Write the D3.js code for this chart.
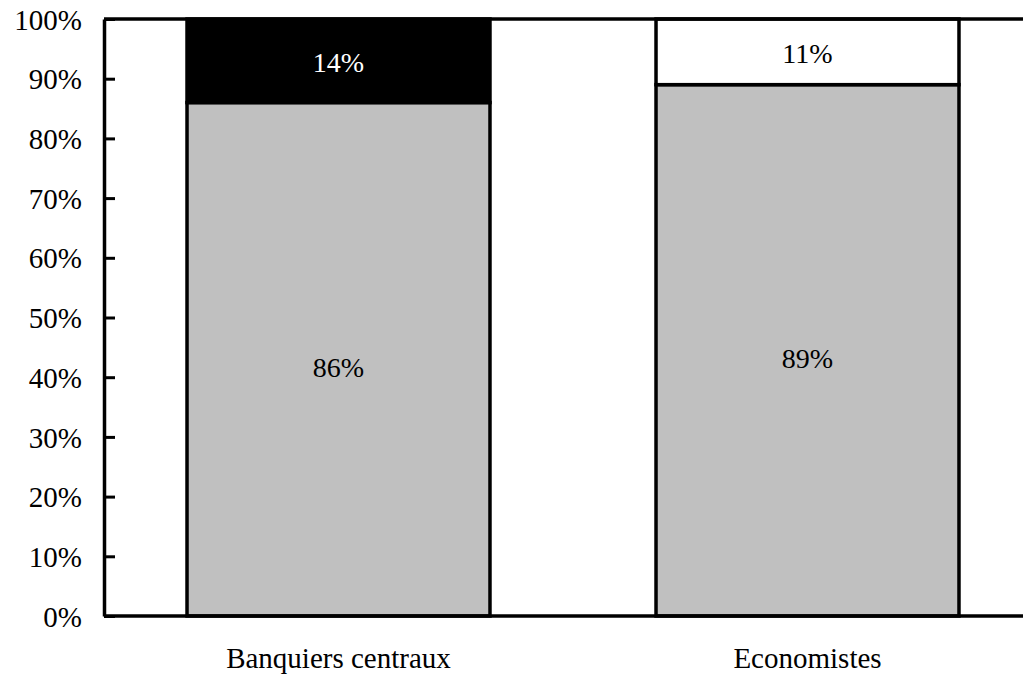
<!DOCTYPE html>
<html>
<head>
<meta charset="utf-8">
<script src="https://cdn.jsdelivr.net/npm/d3@7"></script>
<style>
  html, body { margin: 0; padding: 0; background: #fff; }
  svg { display: block; font-family: "Liberation Serif", "Times New Roman", serif; }
</style>
</head>
<body>
<svg id="chart" width="1023" height="674"></svg>
<script>
// Data: share of respondents per group (percent)
const categories = ["Banquiers centraux", "Economistes"];
const seriesGrey  = [86, 89];
const seriesBlack = [14, 0];
const seriesWhite = [0, 11];
const yTicks = [0, 10, 20, 30, 40, 50, 60, 70, 80, 90, 100];

const seriesList = [
  { key: "grey",  values: seriesGrey },
  { key: "black", values: seriesBlack },
  { key: "white", values: seriesWhite }
];
const fills = { grey: "#c0c0c0", black: "#000000", white: "#ffffff" };
const labelColors = { grey: "#000000", black: "#ffffff", white: "#000000" };

const svg = d3.select("#chart");
const plotLeft = 104, plotRight = 1042, plotTop = 19, plotBottom = 616;

const x = d3.scaleBand()
  .domain(categories)
  .range([plotLeft, plotRight])
  .paddingInner(0.354)
  .paddingOuter(0.177);

const y = d3.scaleLinear().domain([0, 100]).range([plotBottom, plotTop]);

// Stack segments per category
const stacked = [];
categories.forEach((c, i) => {
  let base = 0;
  seriesList.forEach(s => {
    const v = s.values[i];
    if (v > 0) stacked.push({ cat: c, key: s.key, y0: base, y1: base + v, v });
    base += v;
  });
});

svg.append("g").selectAll("rect")
  .data(stacked)
  .join("rect")
  .attr("x", d => x(d.cat))
  .attr("width", x.bandwidth())
  .attr("y", d => y(d.y1))
  .attr("height", d => y(d.y0) - y(d.y1))
  .attr("fill", d => fills[d.key])
  .attr("stroke", "#000")
  .attr("stroke-width", 3.5);

// Value labels
svg.append("g").selectAll("text")
  .data(stacked)
  .join("text")
  .attr("x", d => x(d.cat) + x.bandwidth() / 2)
  .attr("y", d => (y(d.y0) + y(d.y1)) / 2 + (d.key === "grey" ? 8 : 2))
  .attr("text-anchor", "middle")
  .attr("dominant-baseline", "central")
  .attr("font-size", 28)
  .attr("fill", d => labelColors[d.key])
  .text(d => d.v + "%");

// Frame lines (top and bottom)
svg.append("line")
  .attr("x1", plotLeft).attr("x2", plotRight)
  .attr("y1", y(100)).attr("y2", y(100))
  .attr("stroke", "#000").attr("stroke-width", 3.5);
svg.append("line")
  .attr("x1", plotLeft).attr("x2", plotRight)
  .attr("y1", y(0)).attr("y2", y(0))
  .attr("stroke", "#000").attr("stroke-width", 3.5);

// Y axis with inward ticks
const yAxis = d3.axisLeft(y)
  .tickValues(yTicks)
  .tickFormat(d => d + "%")
  .tickSizeInner(-11)
  .tickSizeOuter(0)
  .tickPadding(22);

const gy = svg.append("g")
  .attr("transform", `translate(${plotLeft},0)`)
  .call(yAxis);
gy.select(".domain").attr("stroke", "#000").attr("stroke-width", 3.5);
gy.selectAll(".tick line").attr("stroke", "#000").attr("stroke-width", 3);
gy.selectAll(".tick text")
  .attr("font-family", "Liberation Serif, Times New Roman, serif")
  .attr("font-size", 29)
  .attr("fill", "#000")
  .attr("x", -22)
  .attr("dy", "0.35em");

// Category labels
svg.append("g").selectAll("text")
  .data(categories)
  .join("text")
  .attr("x", d => x(d) + x.bandwidth() / 2)
  .attr("y", 668)
  .attr("text-anchor", "middle")
  .attr("font-size", 29)
  .attr("fill", "#000")
  .text(d => d);
</script>
</body>
</html>
